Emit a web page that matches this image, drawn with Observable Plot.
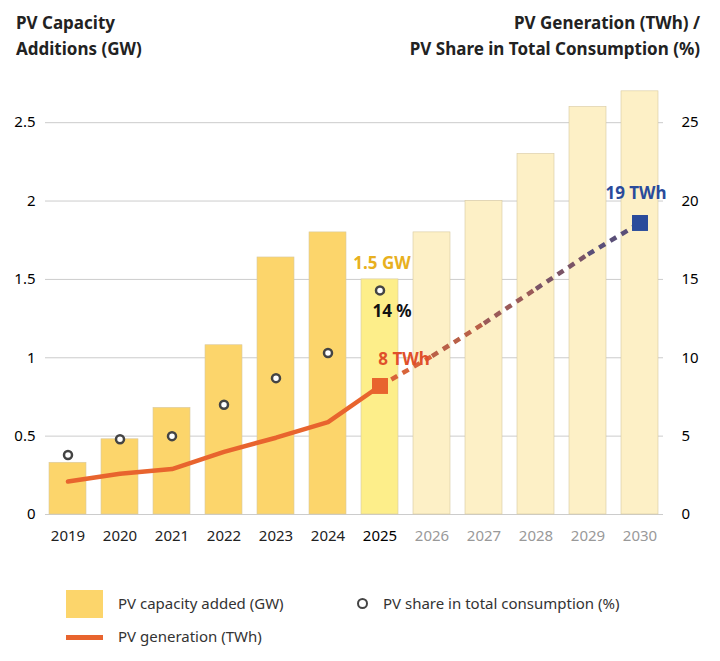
<!DOCTYPE html>
<html><head><meta charset="utf-8">
<script src="https://cdn.jsdelivr.net/npm/d3@7"></script>
<script src="https://cdn.jsdelivr.net/npm/@observablehq/plot@0.6"></script>
<style>
body{margin:0;font-family:"Noto Sans","Open Sans",sans-serif;background:#fff;width:720px}
.hdr{position:relative;height:75px}
.hdr div{position:absolute;top:10px;font-weight:700;font-size:17px;line-height:26px;color:#222}
.legend{position:relative;height:110px;font-size:15px;color:#333}
.legend span{position:absolute}
</style></head><body>
<div class="hdr"><div style="left:16px">PV Capacity<br>Additions (GW)</div><div style="right:20px;text-align:right">PV Generation (TWh) /<br>PV Share in Total Consumption (%)</div></div>
<div id="chart"></div>
<div class="legend">
<span style="left:66px;top:41px;width:37px;height:28px;background:#fcd56b"></span>
<span style="left:118px;top:44px">PV capacity added (GW)</span>
<span style="left:357px;top:49px;width:7px;height:7px;border:2.5px solid #444;border-radius:50%"></span>
<span style="left:383px;top:44px">PV share in total consumption (%)</span>
<span style="left:66px;top:86px;width:37px;height:5px;background:#e8642e"></span>
<span style="left:118px;top:77px">PV generation (TWh)</span>
</div>
<script>
const years=["2019","2020","2021","2022","2023","2024","2025","2026","2027","2028","2029","2030"];
const capacity=[0.33,0.48,0.68,1.08,1.64,1.8,1.5,1.8,2.0,2.3,2.6,2.7];
const shareYears=["2019","2020","2021","2022","2023","2024","2025"];
const share=[3.8,4.8,5.0,7.0,8.7,10.3,14.3];
const genYears=["2019","2020","2021","2022","2023","2024","2025"];
const gen=[2.1,2.6,2.9,4.0,4.9,5.9,8.2];
const projYears=["2025","2026","2027","2028","2029","2030"];
const proj=[8.2,10.1,12.2,14.4,16.6,18.6];
const projColors=["#d8643a","#b96048","#9a5a58","#7a5466","#5a4f78"];

const bars=years.map((y,i)=>({y,v:capacity[i],fill:i<6?"#fcd56b":i==6?"#fdee8a":"#fdf0c6"}));
const sh=shareYears.map((y,i)=>({y,v:share[i]/10}));
const gn=genYears.map((y,i)=>({y,v:gen[i]/10}));
const segs=projYears.slice(0,-1).map((y,i)=>({x1:y,x2:projYears[i+1],y1:proj[i]/10,y2:proj[i+1]/10,c:projColors[i]}));
const ylab=years.map((y,i)=>({y,c:i<6?"#222":i==6?"#000":"#999",w:i==6?"bold":"normal"}));

const chart=Plot.plot({
 width:720,height:474,marginTop:8,marginLeft:45,marginRight:57,marginBottom:35,
 style:{fontFamily:"Noto Sans, sans-serif",fontSize:"15px"},
 x:{domain:years,paddingInner:0.28,paddingOuter:0.06,axis:null},
 y:{domain:[0,2.75],axis:null},
 marks:[
  Plot.gridY([0,0.5,1,1.5,2,2.5],{stroke:"#ccc",strokeOpacity:1}),
  Plot.axisY([0,0.5,1,1.5,2,2.5],{anchor:"left",tickSize:0,tickPadding:10,label:null,fontSize:15,tickFormat:d=>String(d)}),
  Plot.axisY([0,0.5,1,1.5,2,2.5],{anchor:"right",tickSize:0,tickPadding:18,label:null,fontSize:15,tickFormat:d=>String(Math.round(d*10))}),
  Plot.barY(bars,{x:"y",y:"v",fill:"fill",stroke:"#d8c9a0",strokeWidth:0.6}),
  Plot.line(gn,{x:"y",y:"v",stroke:"#e8642e",strokeWidth:4.5}),
  Plot.link(segs,{x1:"x1",x2:"x2",y1:"y1",y2:"y2",stroke:"c",strokeWidth:4.5,strokeDasharray:"7,6"}),
  Plot.dot(sh,{x:"y",y:"v",r:4,stroke:"#444",strokeWidth:2.5,fill:"#fff"}),
  Plot.dot([{y:"2025",v:8.2/10}],{x:"y",y:"v",symbol:"square",r:9,fill:"#e8642e"}),
  Plot.dot([{y:"2030",v:18.6/10}],{x:"y",y:"v",symbol:"square",r:9,fill:"#2a4b9b"}),
  Plot.text([{y:"2025",v:1.5}],{x:"y",y:"v",text:()=>"1.5 GW",dy:-16,dx:2,fill:"#e8b020",fontWeight:"bold",fontSize:17}),
  Plot.text([{y:"2025",v:1.43}],{x:"y",y:"v",text:()=>"14 %",dy:21,dx:12,fill:"#111",fontWeight:"bold",fontSize:17}),
  Plot.text([{y:"2025",v:0.82}],{x:"y",y:"v",text:()=>"8 TWh",dy:-26,dx:24,fill:"#e0502a",fontWeight:"bold",fontSize:17}),
  Plot.text([{y:"2030",v:1.86}],{x:"y",y:"v",text:()=>"19 TWh",dy:-29,dx:-4,fill:"#2a4b9b",fontWeight:"bold",fontSize:17}),
  Plot.text(ylab,{x:"y",y:0,text:"y",dy:22,fill:"c",fontWeight:"w",fontSize:15})
 ]
});
document.getElementById("chart").append(chart);
</script></body></html>
